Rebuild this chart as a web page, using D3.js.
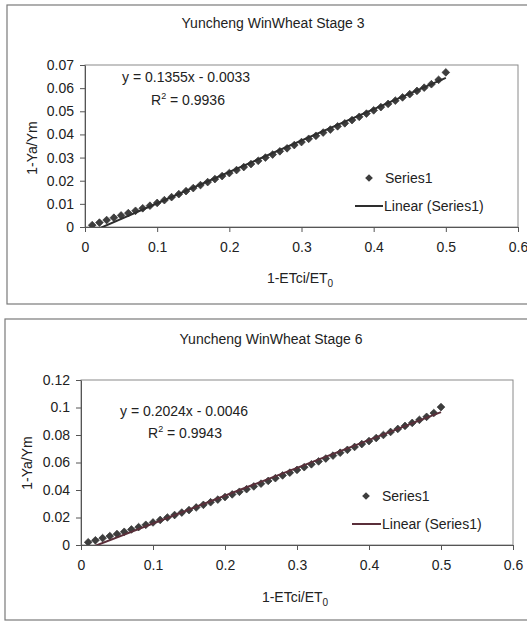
<!DOCTYPE html>
<html>
<head>
<meta charset="utf-8">
<script src="https://cdn.jsdelivr.net/npm/d3@7"></script>
<style>
    html, body { margin: 0; padding: 0; background: #fff; }
    svg { display: block; font-family: "Liberation Sans", Arial, sans-serif; }
    .tick text { font-size: 14px; fill: #222; }
</style>
</head>
<body>
<svg id="chart"></svg>
<script>
// Shared x values (1-ETci/ET0)
const xValues = [
    0.01, 0.02, 0.03, 0.04, 0.05, 0.06, 0.07, 0.08, 0.09, 0.10,
    0.11, 0.12, 0.13, 0.14, 0.15, 0.16, 0.17, 0.18, 0.19, 0.20,
    0.21, 0.22, 0.23, 0.24, 0.25, 0.26, 0.27, 0.28, 0.29, 0.30,
    0.31, 0.32, 0.33, 0.34, 0.35, 0.36, 0.37, 0.38, 0.39, 0.40,
    0.41, 0.42, 0.43, 0.44, 0.45, 0.46, 0.47, 0.48, 0.49, 0.50
];

// Stage 3 values (1-Ya/Ym)
const stage3Y = [
    0.0008, 0.0019, 0.0030, 0.0040, 0.0050, 0.0060, 0.0070, 0.0081, 0.0092, 0.0104,
    0.0116, 0.0129, 0.0142, 0.0155, 0.0168, 0.0181, 0.0194, 0.0207, 0.0220, 0.0233,
    0.0246, 0.0259, 0.0272, 0.0286, 0.0300, 0.0313, 0.0327, 0.0340, 0.0354, 0.0367,
    0.0381, 0.0394, 0.0408, 0.0421, 0.0435, 0.0448, 0.0462, 0.0476, 0.0490, 0.0504,
    0.0518, 0.0532, 0.0546, 0.0560, 0.0574, 0.0588, 0.0602, 0.0617, 0.0636, 0.0668
];

// Stage 6 values (1-Ya/Ym)
const stage6Y = [
    0.0020, 0.0034, 0.0050, 0.0065, 0.0080, 0.0096, 0.0113, 0.0130, 0.0147, 0.0164,
    0.0182, 0.0200, 0.0218, 0.0236, 0.0254, 0.0273, 0.0292, 0.0311, 0.0330, 0.0349,
    0.0368, 0.0387, 0.0406, 0.0426, 0.0446, 0.0466, 0.0486, 0.0506, 0.0526, 0.0546,
    0.0566, 0.0587, 0.0608, 0.0629, 0.0650, 0.0671, 0.0692, 0.0713, 0.0734, 0.0756,
    0.0778, 0.0800, 0.0822, 0.0844, 0.0866, 0.0888, 0.0910, 0.0932, 0.0960, 0.1003
];

// Trendline coefficients (slope, intercept) and R squared
const stage3Trend = [0.1355, -0.0033];
const stage6Trend = [0.2024, -0.0046];
const stage3R2 = '0.9936';
const stage6R2 = '0.9943';

// Tick values
const xTicks = [0, 0.1, 0.2, 0.3, 0.4, 0.5, 0.6];
const stage3YTicks = [0, 0.01, 0.02, 0.03, 0.04, 0.05, 0.06, 0.07];
const stage6YTicks = [0, 0.02, 0.04, 0.06, 0.08, 0.1, 0.12];

const svg = d3.select('#chart')
    .attr('width', 527)
    .attr('height', 621);

const fmt = d3.format('~g');

function drawPanel(p) {
    const g = svg.append('g');

    // Outer chart frame
    g.append('rect')
        .attr('x', p.frame[0]).attr('y', p.frame[1])
        .attr('width', p.frame[2]).attr('height', p.frame[3])
        .attr('fill', '#fff')
        .attr('stroke', '#7a7a7a')
        .attr('stroke-width', 1.2);

    const x = d3.scaleLinear().domain([0, 0.6]).range([p.left, p.right]);
    const y = d3.scaleLinear().domain([0, d3.max(p.yTicks)]).range([p.bottom, p.top]);

    // Plot area border
    g.append('rect')
        .attr('x', p.left).attr('y', p.top)
        .attr('width', p.right - p.left).attr('height', p.bottom - p.top)
        .attr('fill', 'none')
        .attr('stroke', '#8a8a8a');

    const xAxis = g.append('g')
        .attr('transform', `translate(0,${p.bottom})`)
        .call(d3.axisBottom(x).tickValues(xTicks).tickFormat(fmt).tickSize(5).tickSizeOuter(0).tickPadding(10));
    const yAxis = g.append('g')
        .attr('transform', `translate(${p.left},0)`)
        .call(d3.axisLeft(y).tickValues(p.yTicks).tickFormat(fmt).tickSize(5).tickSizeOuter(0).tickPadding(6));
    [xAxis, yAxis].forEach(a => {
        a.select('.domain').attr('stroke', '#555');
        a.selectAll('.tick line').attr('stroke', '#555');
    });

    // Clip to plot area
    const clipId = 'clip' + p.id;
    svg.append('clipPath').attr('id', clipId)
        .append('rect')
        .attr('x', p.left).attr('y', p.top)
        .attr('width', p.right - p.left).attr('height', p.bottom - p.top);

    const pts = xValues.map((v, i) => [v, p.values[i]]);
    const plot = g.append('g').attr('clip-path', `url(#${clipId})`);

    // Diamond markers
    const diamond = d3.symbol().type(d3.symbolSquare).size(30);
    plot.selectAll('path.pt')
        .data(pts)
        .enter()
        .append('path')
        .attr('class', 'pt')
        .attr('d', diamond)
        .attr('transform', d => `translate(${x(d[0])},${y(d[1])}) rotate(45)`)
        .attr('fill', '#3d3d3d')
        .attr('stroke', '#2a2a2a')
        .attr('stroke-width', 0.6);

    // Linear trendline over data range
    const xr = d3.extent(xValues);
    const trend = xr.map(v => [v, p.trend[0] * v + p.trend[1]]);
    plot.append('path')
        .attr('d', d3.line().x(d => x(d[0])).y(d => y(d[1]))(trend))
        .attr('fill', 'none')
        .attr('stroke', p.lineColor)
        .attr('stroke-width', 2);

    // Title
    g.append('text')
        .attr('x', p.titleX).attr('y', p.titleY)
        .attr('text-anchor', 'middle')
        .attr('font-size', 14).attr('fill', '#222')
        .text(p.title);

    // Axis titles
    const xt = g.append('text')
        .attr('x', p.xTitle[0]).attr('y', p.xTitle[1])
        .attr('text-anchor', 'middle')
        .attr('font-size', 14).attr('fill', '#222');
    xt.append('tspan').text('1-ETci/ET');
    xt.append('tspan').attr('font-size', 10).attr('dy', 4).text('0');

    g.append('text')
        .attr('transform', `translate(${p.yTitle[0]},${p.yTitle[1]}) rotate(-90)`)
        .attr('text-anchor', 'middle')
        .attr('font-size', 14).attr('fill', '#222')
        .text('1-Ya/Ym');

    // Equation and R squared
    const a = p.trend[0].toFixed(4);
    const b = Math.abs(p.trend[1]).toFixed(4);
    g.append('text')
        .attr('x', p.eq[0]).attr('y', p.eq[1])
        .attr('font-size', 14).attr('fill', '#222')
        .text(`y = ${a}x - ${b}`);
    const r2 = g.append('text')
        .attr('x', p.r2[0]).attr('y', p.r2[1])
        .attr('font-size', 14).attr('fill', '#222');
    r2.append('tspan').text('R');
    r2.append('tspan').attr('font-size', 9).attr('dy', -6).text('2');
    r2.append('tspan').attr('dy', 6).text(' = ' + p.r2Text);

    // Legend
    g.append('path')
        .attr('d', diamond)
        .attr('transform', `translate(${p.legend[0]},${p.legend[1]}) rotate(45)`)
        .attr('fill', '#3d3d3d');
    g.append('text')
        .attr('x', p.legend[2]).attr('y', p.legend[1] + 5)
        .attr('font-size', 14).attr('fill', '#222')
        .text('Series1');
    g.append('line')
        .attr('x1', p.legendLine[0]).attr('x2', p.legendLine[1])
        .attr('y1', p.legendLine[2]).attr('y2', p.legendLine[2])
        .attr('stroke', p.lineColor).attr('stroke-width', 2);
    g.append('text')
        .attr('x', p.legendLine[1] + 1).attr('y', p.legendLine[2] + 5)
        .attr('font-size', 14).attr('fill', '#222')
        .text('Linear (Series1)');
}

drawPanel({
    id: 3,
    title: 'Yuncheng WinWheat Stage 3',
    values: stage3Y,
    trend: stage3Trend,
    r2Text: stage3R2,
    yTicks: stage3YTicks,
    lineColor: '#2e2e2e',
    frame: [7, 5, 530, 299],
    left: 85, right: 518, top: 65, bottom: 227,
    titleX: 273, titleY: 28,
    xTitle: [300, 283], yTitle: [37, 148],
    eq: [122, 82], r2: [151, 105],
    legend: [369, 178, 385],
    legendLine: [355, 383, 206]
});

drawPanel({
    id: 6,
    title: 'Yuncheng WinWheat Stage 6',
    values: stage6Y,
    trend: stage6Trend,
    r2Text: stage6R2,
    yTicks: stage6YTicks,
    lineColor: '#5a2f3a',
    frame: [5, 319, 530, 301],
    left: 81, right: 513, top: 380, bottom: 545,
    titleX: 271, titleY: 344,
    xTitle: [295, 602], yTitle: [32, 463],
    eq: [120, 416], r2: [148, 438],
    legend: [366, 496, 382],
    legendLine: [352, 381, 524]
});
</script>
</body>
</html>
